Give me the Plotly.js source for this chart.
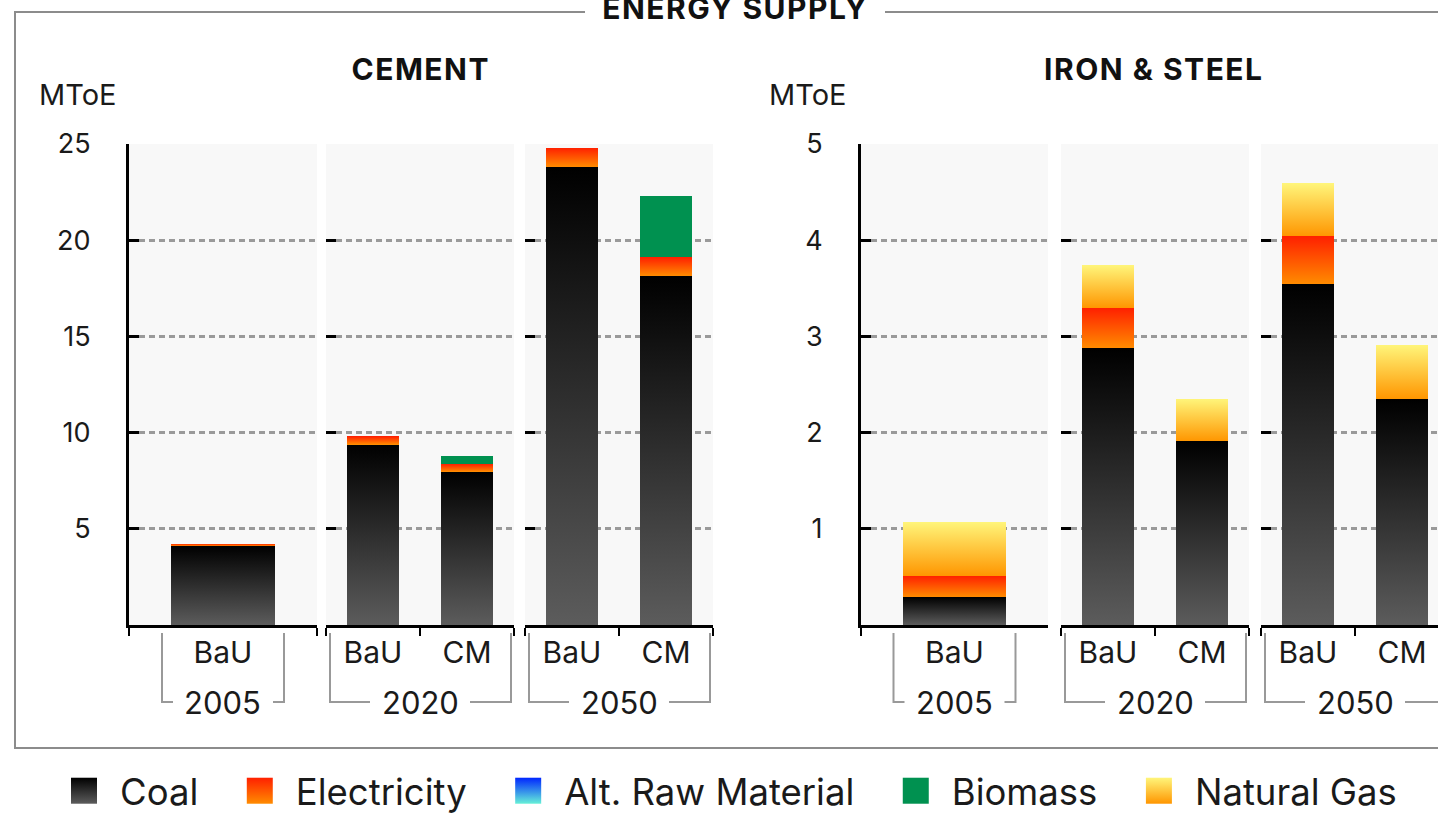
<!DOCTYPE html>
<html><head><meta charset="utf-8">
<script src="https://cdn.plot.ly/plotly-3.0.1.min.js"></script>
<style>
html,body{margin:0;padding:0;overflow:hidden;background:#fff;width:1438px;height:817px}
#chart{position:absolute;left:0;top:0;width:1480px;height:817px}
</style>
</head><body><div id="chart"></div>
<script>
// ---------------- data ----------------
const fuels = ["Coal", "Electricity", "Alt. Raw Material", "Biomass", "Natural Gas"];
const years = ["2005", "2020", "2050"];
const barYears = ["2005", "2020", "2020", "2050", "2050"];
const barScenarios = ["BaU", "BaU", "CM", "BaU", "CM"];

const cementCoal        = [4.10, 9.38, 7.97, 23.80, 18.14];
const cementElectricity = [0.12, 0.42, 0.40, 1.00, 0.97];
const cementAltRaw      = [0, 0, 0, 0, 0];
const cementBiomass     = [0, 0, 0.43, 0, 3.18];
const cementGas         = [0, 0, 0, 0, 0];

const steelCoal        = [0.29, 2.875, 1.91, 3.54, 2.35];
const steelElectricity = [0.22, 0.42, 0, 0.50, 0];
const steelAltRaw      = [0, 0, 0, 0, 0];
const steelBiomass     = [0, 0, 0, 0, 0];
const steelGas         = [0.56, 0.445, 0.44, 0.55, 0.56];

const sectorTitles = ["CEMENT", "IRON & STEEL"];
const unitLabel = "MToE";
const cementTicks = [5, 10, 15, 20, 25];
const steelTicks = [1, 2, 3, 4, 5];
const mainTitle = "ENERGY SUPPLY";

// ---------------- styling ----------------
const FONT = "Inter, 'Noto Sans', sans-serif";
const TXT = "#1a1a1a";
const solid = ["#2a2a2a", "#ff5a00", "#2f8cf0", "#009150", "#ffc53a"];
const grads = [["#000000", "#5c5c5c"], ["#ff2000", "#ff8c00"], ["#0026ff", "#66f0d8"], null, ["#fff57a", "#ff9600"]];
const LEGEND_PAD = "\u00a0\u00a0";

const W = 1480, H = 817;
const px = x => x / W;
const py = y => 1 - y / H;

const sectorData = [
  [cementCoal, cementElectricity, cementAltRaw, cementBiomass, cementGas],
  [steelCoal, steelElectricity, steelAltRaw, steelBiomass, steelGas]
];
const sectorTicks = [cementTicks, steelTicks];
const sectorRange = [[0, 25], [0, 5]];
const panelX = [
  [[129, 317], [326, 514], [525, 713]],
  [[861, 1048], [1061, 1249], [1261, 1449]]
];
const plotTop = 144, plotBottom = 625;

const traces = [];
const layout = {
  width: W, height: H,
  margin: {l: 0, r: 0, t: 0, b: 0, autoexpand: false},
  paper_bgcolor: "#fff", plot_bgcolor: "#f8f8f8",
  barmode: "stack", bargap: 0.45,
  font: {family: FONT, color: TXT},
  showlegend: true,
  legend: {
    orientation: "h", x: px(48), xanchor: "left", y: py(791), yanchor: "middle",
    font: {family: FONT, size: 36.5, color: TXT}, itemwidth: 62, bgcolor: "rgba(0,0,0,0)",
    traceorder: "normal"
  },
  shapes: [], annotations: []
};

for (let c = 0; c < 2; c++) {
  for (let p = 0; p < 3; p++) {
    const k = c * 3 + p + 1;
    const xn = k === 1 ? "x" : "x" + k, yn = k === 1 ? "y" : "y" + k;
    const xk = k === 1 ? "xaxis" : "xaxis" + k, yk = k === 1 ? "yaxis" : "yaxis" + k;
    const idx = barYears.map((y, i) => y === years[p] ? i : -1).filter(i => i >= 0);
    const scen = idx.map(i => barScenarios[i]);
    fuels.forEach((f, fi) => {
      traces.push({
        type: "bar", name: f + LEGEND_PAD, legendgroup: f, showlegend: c === 0 && p === 0,
        meta: fi,
        x: scen, y: idx.map(i => sectorData[c][fi][i]),
        xaxis: xn, yaxis: yn,
        marker: {color: solid[fi], line: {width: 0}},
        hoverinfo: "skip"
      });
    });
    const [a, b] = panelX[c][p];
    layout[xk] = {
      domain: [px(a), px(b)], anchor: yn, type: "category",
      categoryorder: "array", categoryarray: scen, range: [-0.5, scen.length - 0.5],
      showline: true, linecolor: "#000", linewidth: 3,
      ticks: "outside", tickson: "boundaries", ticklen: 8, tickwidth: 2, tickcolor: "#000",
      showgrid: false, zeroline: false, fixedrange: true, ticklabelstandoff: -1,
      tickfont: {family: FONT, size: 30, color: TXT}
    };
    const main = p === 0;
    layout[yk] = {
      domain: [py(plotBottom), py(plotTop)], anchor: xn, range: sectorRange[c], fixedrange: true,
      tickvals: sectorTicks[c], ticktext: sectorTicks[c].map(String),
      showgrid: true, gridcolor: "#9a9a9a", gridwidth: 3, griddash: "6px,4px",
      zeroline: false, showline: main, linecolor: "#000", linewidth: 3,
      ticks: "inside", ticklen: 10, tickwidth: 3, tickcolor: "#000",
      showticklabels: main, ticklabelstandoff: 30,
      tickfont: {family: FONT, size: 27, color: TXT}
    };
    // year label + bracket
    const cx = (a + b) / 2;
    const left = scen.length === 1 ? cx - 61 : a + 4;
    const right = scen.length === 1 ? cx + 61 : b - 3;
    layout.annotations.push({
      text: years[p], xref: "paper", yref: "paper", x: px(cx), y: py(702),
      xanchor: "center", yanchor: "middle", showarrow: false,
      font: {family: FONT, size: 31, color: TXT}
    });
    layout.shapes.push({
      type: "path", xref: "paper", yref: "paper", layer: "below",
      path: `M${px(left)},${py(633)} L${px(left)},${py(702)} L${px(cx - 50)},${py(702)} M${px(cx + 50)},${py(702)} L${px(right)},${py(702)} L${px(right)},${py(633)}`,
      line: {color: "#999", width: 2}
    });
  }
}

// frame
layout.shapes.push({
  type: "path", xref: "paper", yref: "paper", layer: "below",
  path: `M${px(585)},${py(12)} L${px(15)},${py(12)} L${px(15)},${py(748)} L${px(1475)},${py(748)} M${px(885)},${py(12)} L${px(1475)},${py(12)}`,
  line: {color: "#8c8c8c", width: 2}
});

const titleFont = {family: FONT, size: 30, weight: 700, color: "#111"};
layout.annotations.push(
  {text: mainTitle, xref: "paper", yref: "paper", x: px(735), y: py(8), xanchor: "center", yanchor: "middle",
   showarrow: false, font: titleFont},
  {text: sectorTitles[0], xref: "paper", yref: "paper", x: px(420), y: py(69), xanchor: "center", yanchor: "middle",
   showarrow: false, font: titleFont},
  {text: sectorTitles[1], xref: "paper", yref: "paper", x: px(1154), y: py(69), xanchor: "center", yanchor: "middle",
   showarrow: false, font: titleFont},
  {text: unitLabel, xref: "paper", yref: "paper", x: px(37), y: py(95), xanchor: "left", yanchor: "middle",
   showarrow: false, font: {family: FONT, size: 29, color: TXT}},
  {text: unitLabel, xref: "paper", yref: "paper", x: px(767), y: py(95), xanchor: "left", yanchor: "middle",
   showarrow: false, font: {family: FONT, size: 29, color: TXT}}
);

const gd = document.getElementById("chart");

function paint() {
  const svg = gd.querySelector("svg.main-svg");
  if (!svg) return;
  const NS = "http://www.w3.org/2000/svg";
  let defs = svg.querySelector("defs");
  if (!defs) { defs = document.createElementNS(NS, "defs"); svg.insertBefore(defs, svg.firstChild); }
  grads.forEach((g, i) => {
    if (!g || svg.querySelector("#fuelgrad" + i)) return;
    const lg = document.createElementNS(NS, "linearGradient");
    lg.setAttribute("id", "fuelgrad" + i);
    lg.setAttribute("x1", "0"); lg.setAttribute("y1", "0");
    lg.setAttribute("x2", "0"); lg.setAttribute("y2", "1");
    [[0, g[0]], [1, g[1]]].forEach(([o, col]) => {
      const s = document.createElementNS(NS, "stop");
      s.setAttribute("offset", o); s.setAttribute("stop-color", col);
      lg.appendChild(s);
    });
    defs.appendChild(lg);
  });
  const traceOf = d => {
    if (!d) return null;
    if (d[0] && d[0].trace) return d[0].trace;
    if (d[0] && d[0][0] && d[0][0].trace) return d[0][0].trace;
    return null;
  };
  gd.querySelectorAll(".barlayer .trace").forEach(g => {
    const tr = traceOf(g.__data__);
    if (!tr) return;
    const i = tr.meta;
    if (typeof i !== "number" || !grads[i]) return;
    g.querySelectorAll("path").forEach(p => { p.style.fill = `url(#fuelgrad${i})`; });
  });
  gd.querySelectorAll(".legend .traces").forEach(g => {
    const tr = traceOf(g.__data__);
    const i = tr ? tr.meta : -1;
    g.querySelectorAll(".legendpoints path").forEach(p => {
      p.setAttribute("d", "M13,13H-13V-13H13Z");
      if (typeof i === "number" && grads[i]) p.style.fill = `url(#fuelgrad${i})`;
    });
  });
  const titles = [mainTitle].concat(sectorTitles);
  gd.querySelectorAll(".annotation-text").forEach(t => {
    if (titles.indexOf(t.textContent) >= 0) t.style.letterSpacing = "1.5px";
  });
  const lg = gd.querySelector(".legend");
  if (lg) lg.querySelectorAll("[clip-path]").forEach(e => e.removeAttribute("clip-path"));
}

Plotly.newPlot(gd, traces, layout, {staticPlot: true, displayModeBar: false}).then(() => {
  paint();
  gd.on("plotly_afterplot", paint);
});
</script>
</body></html>
